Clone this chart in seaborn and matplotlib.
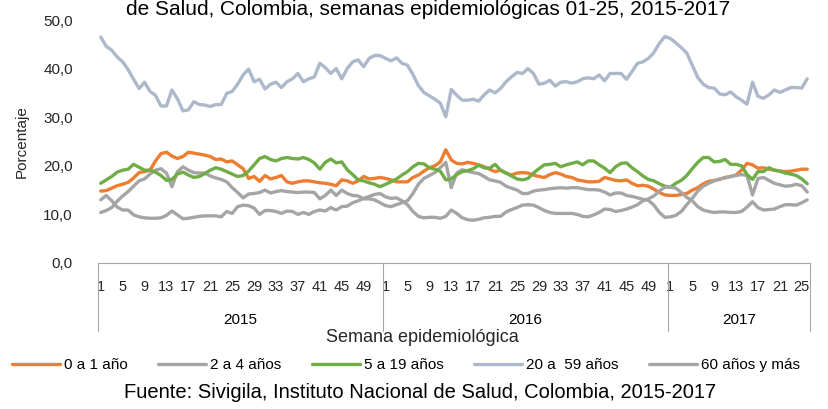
import numpy as np
import pandas as pd
import seaborn as sns
import matplotlib.pyplot as plt
from matplotlib import font_manager
from matplotlib.transforms import blended_transform_factory

# semanas epidemiologicas por año (2017 solo hasta la semana 26)
years = ["2015", "2016", "2017"]
weeks_per_year = [52, 52, 26]
week_labels = [list(range(1, 53, 4)), list(range(1, 53, 4)), list(range(1, 27, 4))]

grupos = ["0 a 1 año", "2 a 4 años", "5 a 19 años", "20 a  59 años", "60 años y más"]

# porcentaje por grupo de edad, semana a semana
edad_0_1 = [
    14.8, 14.9, 15.4, 15.9, 16.2, 16.6, 17.5, 18.6, 18.8, 19.1,
    21.0, 22.5, 22.8, 22.0, 21.5, 21.9, 22.8, 22.6, 22.4, 22.2,
    21.9, 21.3, 21.4, 20.8, 21.0, 20.2, 19.4, 17.4, 17.8, 16.8,
    18.0, 17.3, 17.6, 18.0, 16.7, 16.4, 16.7, 16.9, 16.9, 16.7,
    16.5, 16.4, 16.2, 15.9, 17.1, 16.9, 16.4, 16.9, 17.8, 17.3,
    17.4, 17.6,
    17.4, 17.1, 16.7, 16.7, 16.7, 17.6, 18.1, 18.9,
    19.6, 20.0, 20.8, 23.3, 21.2, 20.5, 20.4, 20.7, 20.5, 20.2,
    19.8, 19.3, 18.8, 19.1, 18.5, 18.1, 18.5, 18.6, 18.5, 18.1,
    17.8, 17.6, 18.2, 18.6, 18.3, 17.8, 17.6, 17.1, 16.9, 16.7,
    16.7, 16.8, 17.6, 17.3, 17.0, 16.9, 17.1, 16.4, 15.9, 16.0,
    15.8, 15.2, 14.5, 14.0,
    13.9, 13.9, 14.1, 14.3, 15.0, 15.5, 16.3, 16.8, 17.0, 17.2,
    17.6, 17.8, 18.1, 19.1, 20.5, 20.2, 19.5, 19.6, 19.3, 19.1,
    18.9, 18.8, 18.9, 19.1, 19.3, 19.3,
]
edad_2_4 = [
    10.4, 10.8, 11.4, 12.7, 13.8, 14.7, 15.8, 16.9, 17.3, 18.3,
    19.1, 19.4, 18.5, 15.7, 18.8, 19.8, 19.1, 18.6, 18.5, 18.5,
    17.9, 17.5, 17.2, 16.7, 15.5, 14.5, 13.4, 14.2, 14.3, 14.5,
    15.0, 14.4, 14.7, 14.9, 14.7, 14.6, 14.5, 14.6, 14.6, 14.5,
    13.2, 13.9, 15.0, 13.9, 15.0, 14.3, 13.9, 13.8, 13.2, 13.2,
    13.0, 12.4,
    11.8, 11.6, 12.0, 12.4, 12.8, 14.3, 16.2, 17.4,
    18.0, 18.6, 19.6, 20.7, 15.5, 18.5, 19.2, 18.9, 18.6, 18.4,
    17.8, 17.1, 16.9, 16.6, 15.8, 15.4, 15.0, 14.3, 14.3, 14.8,
    15.0, 15.1, 15.3, 15.4, 15.5, 15.4, 15.5, 15.5, 15.3, 15.1,
    15.1, 15.0, 14.6, 14.0, 14.4, 14.4, 13.9, 13.7, 13.4, 13.1,
    12.9, 11.9, 10.4, 9.4,
    9.5, 9.8, 10.6, 12.0, 13.3, 14.8, 15.8, 16.4, 16.9, 17.3,
    17.5, 17.8, 18.0, 18.2, 18.0, 14.0, 17.4, 17.6, 17.0, 16.4,
    16.1, 15.8, 15.9, 16.2, 15.9, 14.6,
]
edad_5_19 = [
    16.4, 17.1, 17.8, 18.7, 19.1, 19.3, 20.3, 19.7, 19.1, 19.1,
    18.7, 18.0, 17.0, 17.2, 18.3, 18.7, 18.1, 17.6, 17.8, 18.4,
    19.1, 19.6, 19.3, 18.8, 18.3, 17.8, 18.0, 18.9, 20.2, 21.5,
    21.9, 21.3, 21.0, 21.5, 21.7, 21.5, 21.4, 21.7, 21.3, 20.6,
    19.3, 20.7, 21.4, 20.6, 20.8, 19.2, 18.2, 17.1, 16.9, 16.5,
    16.2, 15.7,
    16.2, 16.7, 17.3, 18.1, 18.8, 19.8, 20.5, 20.4,
    19.6, 19.3, 18.9, 17.1, 17.3, 18.2, 18.8, 19.0, 19.4, 20.1,
    19.6, 19.5, 20.3, 19.1, 18.5, 17.9, 17.3, 17.1, 17.4, 18.5,
    19.4, 20.2, 20.3, 20.5, 19.8, 20.2, 20.5, 20.8, 20.2, 21.0,
    21.0, 20.2, 19.5, 18.6, 19.8, 20.5, 20.6, 19.6, 18.8, 17.9,
    17.2, 16.9, 16.3, 15.8,
    15.6, 16.4, 17.0, 18.0, 19.4, 20.7, 21.7, 21.7, 20.8, 20.9,
    21.3, 20.3, 20.3, 20.0, 18.2, 17.2, 18.8, 18.8, 19.6, 19.1,
    18.9, 18.5, 18.3, 18.0, 17.3, 16.3,
]
edad_20_59 = [
    46.5, 44.6, 43.8, 42.4, 41.4, 39.8, 37.8, 35.9, 37.2, 35.3,
    34.5, 32.3, 32.3, 35.6, 33.8, 31.3, 31.5, 33.2, 32.6, 32.5,
    32.2, 32.6, 32.6, 34.9, 35.3, 36.8, 38.7, 39.9, 37.3, 37.8,
    35.8, 36.8, 37.2, 36.1, 37.3, 37.9, 39.0, 37.3, 37.9, 38.3,
    41.1, 40.2, 39.0, 40.0, 37.9, 40.0, 41.4, 41.8, 40.4, 42.1,
    42.7, 42.7,
    42.1, 41.6, 42.2, 41.1, 40.7, 38.8, 36.5, 35.1,
    34.4, 33.7, 32.9, 30.1, 35.7, 34.5, 33.5, 33.5, 33.7, 33.3,
    34.6, 35.6, 35.0, 35.9, 37.3, 38.3, 39.2, 39.0, 40.0, 39.0,
    36.8, 37.0, 37.6, 36.4, 37.2, 37.3, 37.0, 37.3, 37.9, 38.1,
    37.9, 38.7, 37.5, 39.0, 39.0, 39.0, 37.8, 39.4, 41.1, 41.4,
    42.1, 43.3, 45.2, 46.6,
    46.2, 45.3, 44.3, 43.2, 40.7, 38.2, 36.8, 36.1, 36.0, 34.8,
    34.6, 35.2, 34.2, 33.5, 32.7, 37.2, 34.3, 33.9, 34.6, 35.6,
    35.1, 35.6, 36.1, 36.1, 36.0, 37.9,
]
edad_60 = [
    13.0, 13.9, 12.8, 11.5, 10.9, 10.9, 9.9, 9.5, 9.3, 9.2,
    9.2, 9.3, 9.8, 10.7, 9.9, 9.1, 9.2, 9.4, 9.6, 9.7,
    9.7, 9.7, 9.5, 10.6, 10.2, 11.6, 11.9, 11.8, 11.3, 10.0,
    10.8, 10.8, 10.6, 10.2, 10.7, 10.6, 10.0, 10.4, 10.0, 10.6,
    10.9, 10.7, 11.4, 10.9, 11.6, 11.7, 12.4, 12.8, 13.3, 13.7,
    14.1, 14.3,
    13.6, 13.3, 13.4, 12.8, 12.0, 10.6, 9.6, 9.3,
    9.4, 9.4, 9.2, 9.6, 10.9, 10.2, 9.3, 8.9, 8.8, 9.0,
    9.3, 9.4, 9.6, 9.6, 10.5, 11.0, 11.4, 11.9, 12.0, 11.9,
    11.4, 10.8, 10.4, 10.2, 10.2, 10.2, 10.2, 10.0, 9.6, 9.5,
    9.9, 10.4, 11.1, 11.0, 10.6, 10.8, 11.1, 11.5, 12.0, 12.8,
    13.2, 13.8, 14.8, 15.6,
    15.6, 15.4, 14.5, 13.5, 12.8, 11.6, 10.9, 10.6, 10.4, 10.5,
    10.5, 10.4, 10.4, 10.6, 11.5, 12.6, 11.4, 10.9, 11.0, 11.1,
    11.6, 12.0, 12.0, 11.9, 12.4, 13.0,
]

colores = {
    "0 a 1 año": "#ED7D31",
    "2 a 4 años": "#A5A5A5",
    "5 a 19 años": "#70AD47",
    "20 a  59 años": "#ADB9CA",
    "60 años y más": "#A5A5A5",
}

# armar tabla larga para seaborn
n = sum(weeks_per_year)
idx = np.arange(n)
df = pd.concat(
    [
        pd.DataFrame({"idx": idx, "valor": vals, "grupo": g})
        for g, vals in zip(grupos, [edad_0_1, edad_2_4, edad_5_19, edad_20_59, edad_60])
    ],
    ignore_index=True,
)

sns.set_theme(style="white")
instaladas = {f.name for f in font_manager.fontManager.ttflist}
narrow = "Liberation Sans Narrow" if "Liberation Sans Narrow" in instaladas else "Liberation Sans"
plt.rcParams["font.family"] = [narrow, "DejaVu Sans"]
plt.rcParams["text.color"] = "black"

fig = plt.figure(figsize=(8.29, 4.09), dpi=100)
ax = fig.add_axes([98 / 829, 146 / 409, 712 / 829, 243 / 409])

sns.lineplot(
    data=df, x="idx", y="valor", hue="grupo", hue_order=grupos,
    palette=colores, linewidth=2.4, ax=ax,
)

ax.set_xlim(-0.5, n - 0.5)
ax.set_ylim(0, 50)
ax.set_yticks(range(0, 51, 10))
ax.set_yticklabels([f"{v:.1f}".replace(".", ",") for v in range(0, 51, 10)], fontsize=11)

# etiquetas de semana
pos, labs = [], []
offset = 0
for nw, wl in zip(weeks_per_year, week_labels):
    for w in wl:
        pos.append(offset + w - 1)
        labs.append(str(w))
    offset += nw
ax.set_xticks(pos)
ax.set_xticklabels(labs, fontsize=10.5)
ax.tick_params(axis="x", length=0, pad=12)
ax.tick_params(axis="y", length=0, pad=18)

sns.despine(ax=ax, left=True)
ax.spines["bottom"].set_color("#A6A6A6")
ax.spines["bottom"].set_linewidth(0.8)

# segundo nivel del eje: años y separadores
trans = blended_transform_factory(ax.transData, ax.transAxes)
bounds = np.concatenate([[0], np.cumsum(weeks_per_year)]) - 0.5
for b in bounds:
    ax.plot([b, b], [0, -0.28], transform=trans, color="#A6A6A6", lw=0.8, clip_on=False)
for yr, a, b in zip(years, bounds[:-1], bounds[1:]):
    ax.text((a + b) / 2, -0.235, yr, transform=trans, ha="center", va="center", fontsize=11)

ax.set_xlabel("Semana epidemiológica", fontsize=13)
ax.xaxis.set_label_coords(0.455, -0.305)
ax.xaxis.label.set_va("center")
ax.set_ylabel("Porcentaje", fontsize=11)
ax.yaxis.set_label_coords(-0.107, 0.5)
ax.yaxis.label.set_va("center")

sns.move_legend(
    ax, "center", bbox_to_anchor=(0.433, -0.42), ncol=5, frameon=False, title=None,
    fontsize=11, handlelength=3.1, handletextpad=0.3, columnspacing=2.0,
)

fig.text(428 / 829, 1 - 15 / 409, "de Salud, Colombia, semanas epidemiológicas 01-25, 2015-2017",
         ha="center", va="baseline", fontsize=15, family=["Liberation Sans", "DejaVu Sans"])
fig.text(420 / 829, 1 - 392 / 409, "Fuente: Sivigila, Instituto Nacional de Salud, Colombia, 2015-2017",
         ha="center", va="center", fontsize=14.5, family=["Liberation Sans", "DejaVu Sans"])

fig.savefig("out.png", dpi=100)
